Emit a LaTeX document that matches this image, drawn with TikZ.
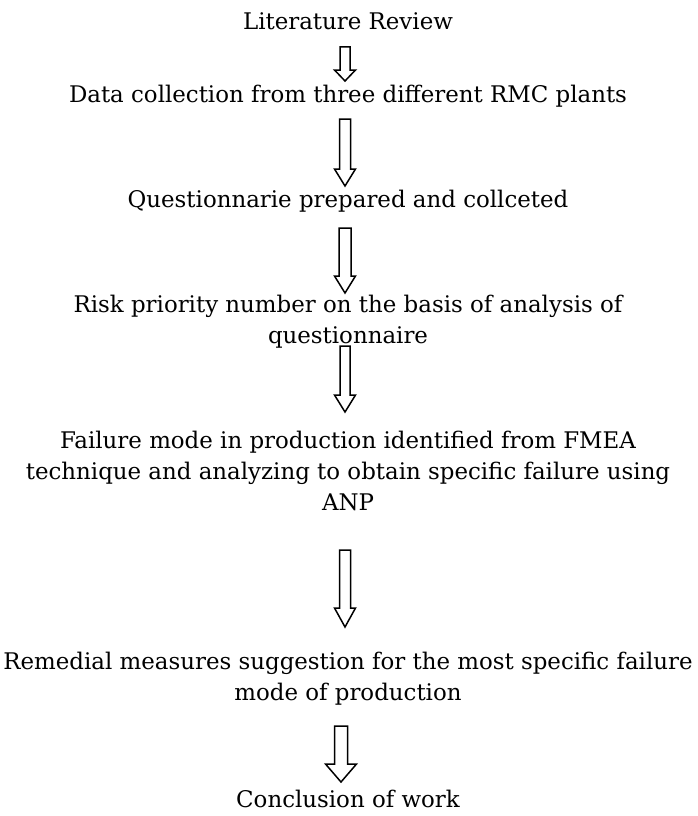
\documentclass[tikz,border=0pt]{standalone}
\usepackage{fontspec}
\setmainfont{DejaVu Serif}
\usetikzlibrary{calc}
\newcommand\blkarrow[5]{% top, tip, shaft half width, head half width, head length
  \draw[blk] ($(#1)+(-#3,0)$) -- ($(#2)+(-#3,-#5)$) -- ($(#2)+(-#4,-#5)$) -- (#2)
    -- ($(#2)+(#4,-#5)$) -- ($(#2)+(#3,-#5)$) -- ($(#1)+(#3,0)$) -- cycle;}
\begin{document}
\begin{tikzpicture}[x=1pt,y=-1pt,
  txt/.style={align=center, font=\fontsize{22.9}{31}\selectfont, inner sep=0pt, text height=0.75em, text depth=0.2em},
  txtm/.style={align=center, font=\fontsize{22.9}{31}\selectfont, inner sep=0pt},
  blk/.style={draw=black, line width=1.5pt, fill=white, line join=miter}]
\useasboundingbox (0,0) rectangle (697,816);
\fill[white] (0,0) rectangle (697,816);
\node[txt] (lit) at (348,27) {Literature Review};
\node[txt] (data) at (348,100) {Data collection from three different RMC plants};
\node[txt] (quest) at (348,205) {Questionnarie prepared and collceted};
\node[txtm] (risk) at (348,321.5) {Risk priority number on the basis of analysis of\\questionnaire};
\node[txtm] (fail) at (348,470.5) {Failure mode in production identified from FMEA\\technique and analyzing to obtain specific failure using\\ANP};
\node[txtm] (rem) at (348,678.5) {Remedial measures suggestion for the most specific failure\\mode of production};
\node[txt] (concl) at (348,805) {Conclusion of work};
\coordinate (a1t) at (345,47);  \coordinate (a1h) at (345,81);
\coordinate (a2t) at (345,119); \coordinate (a2h) at (345,186);
\coordinate (a3t) at (345,228); \coordinate (a3h) at (345,293);
\coordinate (a4t) at (345,346); \coordinate (a4h) at (345,412);
\coordinate (a5t) at (345,550); \coordinate (a5h) at (345,627);
\coordinate (a6t) at (341,726); \coordinate (a6h) at (341,782);
\blkarrow{a1t}{a1h}{5}{10.5}{11}
\blkarrow{a2t}{a2h}{5.5}{10.5}{17}
\blkarrow{a3t}{a3h}{6}{10.5}{17}
\blkarrow{a4t}{a4h}{5}{10.5}{17}
\blkarrow{a5t}{a5h}{5.5}{10.5}{19}
\blkarrow{a6t}{a6h}{6.5}{15.5}{18}
\end{tikzpicture}
\end{document}
